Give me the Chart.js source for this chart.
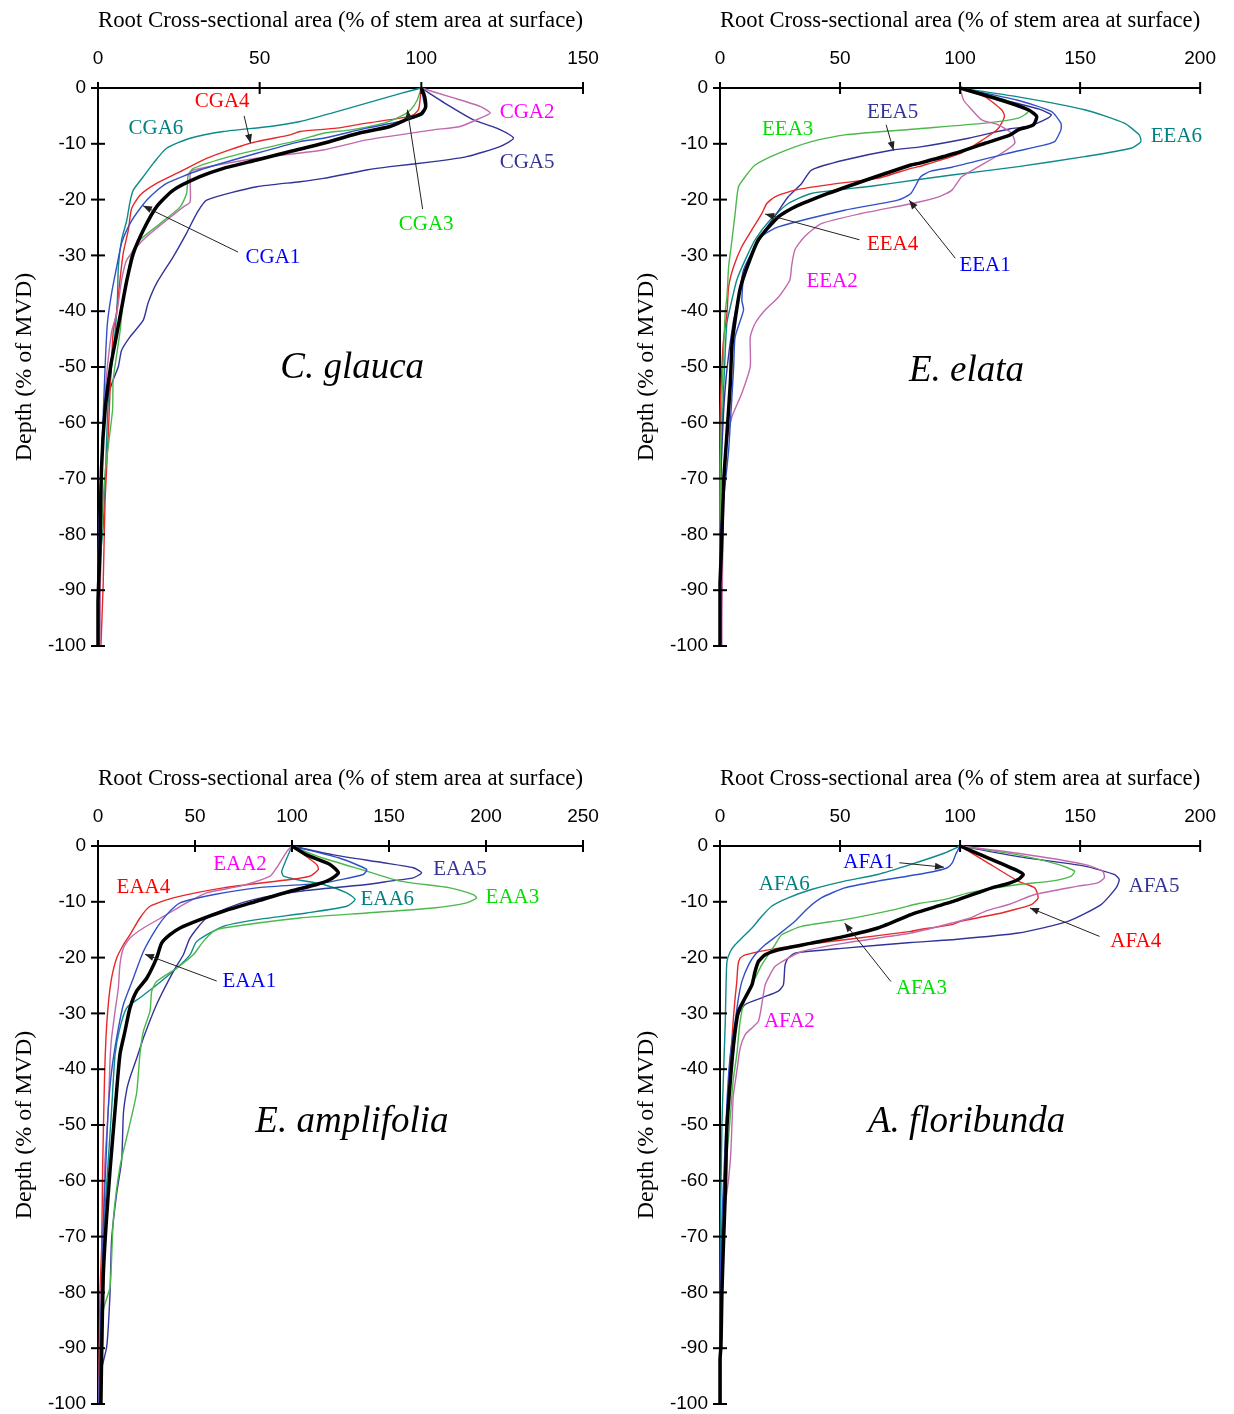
<!DOCTYPE html>
<html>
<head>
<meta charset="utf-8">
<script src="https://cdn.jsdelivr.net/npm/chart.js@4.4.0/dist/chart.umd.min.js"></script>
<style>
  body { margin: 0; background: #fff; width: 1234px; height: 1414px; position: relative; overflow: hidden; }
  canvas { position: absolute; }
</style>
</head>
<body>
<canvas id="glauca" width="617" height="707" style="left:0;top:0"></canvas>
<canvas id="elata" width="612" height="707" style="left:622px;top:0"></canvas>
<canvas id="amplifolia" width="617" height="700" style="left:0;top:758px"></canvas>
<canvas id="floribunda" width="612" height="700" style="left:622px;top:758px"></canvas>
<script>
// [root area %, depth %]
const cgaMean = [[100,0],[101,-1.5],[101.3,-3.5],[100,-4.6],[96,-5.5],[90.3,-6.9],[80,-8.2],[69.7,-9.9],[60,-11.3],[49.1,-12.9],[38.8,-14.4],[31.5,-15.9],[23.3,-18.3],[18.1,-21.3],[14,-25.5],[10.9,-29.7],[8.9,-34.5],[7.6,-38.5],[5.5,-45],[3.9,-49.9],[2.2,-57.7],[1.1,-68],[0.6,-82.8],[0,-92],[0,-100]];
const cga1 = [[100,0],[100.7,-2.2],[101.2,-3.9],[100.2,-4.8],[93.4,-6],[83.1,-7.2],[69.7,-9],[62.5,-9.6],[49.1,-11.7],[31.5,-14.7],[21.2,-17.1],[16.1,-19.5],[13,-21.6],[9.9,-24.3],[7.3,-27.8],[5.8,-32],[4.2,-36.8],[2.9,-42.2],[2.2,-49.9],[1.4,-61.9],[0.6,-73.8],[0.3,-85],[0,-90],[0,-100]];
const cga2 = [[100,0],[108.9,-1.6],[118.2,-3.3],[121.3,-4.5],[118.2,-5.4],[112,-6.9],[103.7,-7.5],[83.1,-9.3],[69.7,-11.1],[49.1,-12.6],[29.5,-14.7],[28.5,-15.3],[28.5,-20.4],[26.4,-21.3],[21.2,-23.7],[14,-27.2],[8.9,-30.8],[7.3,-34.4],[5.8,-40.4],[4.2,-43.7],[2.2,-54.7],[1.1,-68],[0.8,-80],[0.6,-100]];
const cga3 = [[100,0],[98.7,-2.2],[96.7,-3.9],[93.6,-5.1],[88.5,-6.3],[78.2,-7.5],[69.7,-8.1],[62.5,-9.3],[49.1,-11.1],[38.8,-12.6],[29.5,-14.4],[27.9,-15.6],[27.4,-18.9],[25.4,-21.3],[19.2,-24.3],[13,-27.2],[10.4,-29.6],[8.9,-34.4],[7.8,-38],[6.8,-43.7],[4.7,-52.3],[4.5,-57.7],[2.2,-69],[1.1,-80],[0.4,-98],[0.4,-100]];
const cga4 = [[100,0],[99.6,-2.2],[99.1,-3.9],[97.5,-4.8],[93.4,-5.4],[83.1,-6.3],[73.8,-7.2],[62.5,-7.8],[59.4,-8.4],[47,-9.9],[33.6,-12.6],[25.4,-15],[18.1,-17.1],[13,-19.2],[10.4,-21.6],[9.4,-25.4],[7.8,-29.6],[6.8,-34.4],[5.8,-40],[4.7,-43.7],[3.7,-54.7],[3.2,-61.9],[2.2,-73.8],[1.6,-89],[0.9,-100]];
const cga5 = [[100,0],[108.9,-3.3],[116.1,-5.7],[123.3,-7.2],[128.5,-9],[124.3,-10.5],[114,-12.3],[103.7,-13.2],[90.3,-14.1],[83.1,-14.7],[69.7,-16.2],[62.5,-16.8],[49.1,-17.7],[33.6,-20.1],[30.5,-22.5],[27.4,-26],[23.3,-30.2],[18.1,-35],[15.5,-38.5],[14,-41.6],[9.9,-44.6],[7.3,-47],[6.3,-49.9],[4.7,-52.3],[2.7,-55.9],[1.6,-61.9],[0.6,-73.8],[0,-85],[0,-100]];
const cga6 = [[100,0],[93.4,-1],[83.1,-2.7],[72.8,-4.4],[62.5,-6],[53.2,-6.9],[38.8,-7.8],[28.5,-9],[21.2,-10.8],[17.1,-13.5],[14,-15.9],[10.9,-18.3],[9.9,-20.4],[8.9,-23.7],[7.3,-27.2],[6.3,-32],[6,-38],[5.3,-43.7],[3.2,-55.9],[2.2,-70.8],[1.6,-78.6],[0.4,-86],[0,-91.8],[0,-100]];

const eeaMean = [[100,0],[117.3,-2.2],[128.4,-3.9],[131.9,-5.1],[130.5,-6.6],[124.2,-7.5],[120.9,-8.4],[110.4,-9.9],[98,-11.7],[82.8,-13.5],[79.5,-13.8],[58.8,-16.8],[45,-18.9],[31.2,-21.3],[24.3,-23.1],[16,-27.2],[11.9,-31.4],[8.4,-36],[6.5,-41],[5,-46],[4.3,-52.9],[2.9,-61.9],[1.5,-70.8],[0.6,-82.8],[0,-89],[0,-100]];
const eea1 = [[100,0],[124,-2.2],[138,-4.2],[142,-6.3],[142,-7.5],[139.4,-9.6],[135.3,-10.2],[119,-11.8],[96.6,-14.2],[87.8,-14.9],[83.6,-15.9],[79.5,-18.9],[74,-20.1],[51.9,-21.9],[24.3,-24.9],[17.4,-26.6],[10.5,-32],[9.1,-38],[9.8,-39.8],[6.3,-44.6],[5.7,-49.9],[4.3,-60.1],[3.6,-64.9],[2.2,-70.8],[0.8,-76.8],[0,-80],[0,-100]];
const eea2 = [[100,0],[101.5,-2.2],[104.9,-3.9],[109,-5.7],[115.9,-6.6],[121.4,-8.1],[122.8,-9.9],[117.3,-11.7],[107.7,-14.1],[100.7,-15.9],[96.6,-18.3],[91.1,-19.5],[81,-20.6],[58.8,-22.5],[42.2,-24.3],[35.3,-26.6],[31.2,-29],[29.8,-32],[29.1,-34.4],[24.3,-37.5],[18.8,-39.8],[14.6,-42.2],[12.6,-44.6],[12.6,-49.9],[9.1,-54.7],[5,-58.9],[2.2,-64.9],[1.5,-73.8],[0.8,-94.7],[0.8,-100]];
const eea3 = [[100,0],[118,-2],[128.4,-4.2],[124.2,-5.4],[110.4,-6.3],[82.8,-7.3],[51.9,-8.4],[38.1,-9.6],[24.3,-11.7],[14.6,-13.8],[10.5,-15.9],[7.7,-17.7],[6.3,-22.5],[5,-27.2],[3.6,-32],[2.9,-37.4],[2.2,-40],[1.5,-47],[0.8,-56],[0.1,-68],[0,-100]];
const eea4 = [[100,0],[110.4,-1.6],[117.3,-3.9],[118.5,-5],[117.3,-6.3],[115.4,-7.5],[110.4,-9],[100.2,-11.7],[82.8,-14.1],[79.5,-14.4],[65.7,-16.2],[49.1,-17.1],[31.2,-18.3],[22.9,-19.5],[19.5,-20.7],[17.4,-22.5],[13.3,-25.4],[9.1,-28.4],[5.7,-32],[3.6,-35.6],[2.9,-40.4],[1.5,-45],[0.8,-50],[0,-60],[0,-100]];
const eea5 = [[100,0],[117,-2],[133,-3.8],[138,-4.8],[136.6,-5.4],[128.4,-6.9],[120.9,-7.3],[103.5,-9],[82.8,-10.6],[71.9,-11.1],[51.9,-12.9],[38.1,-14.7],[34,-17.1],[28.4,-19.5],[23.6,-22.5],[18.8,-25.4],[13.3,-29.6],[9.8,-32.6],[7.7,-37.4],[5.5,-42],[3,-50],[1.5,-58],[0.3,-70],[0,-80],[0,-100]];
const eea6 = [[100,0],[124.2,-1.6],[151.8,-3.9],[168.4,-6.3],[174.6,-8.4],[175.3,-9.6],[171.2,-10.8],[151.8,-12.3],[124.2,-14.1],[96.6,-15.6],[82.8,-16.4],[62.9,-17.6],[38.1,-18.9],[28.4,-20.7],[20.8,-23.7],[14.6,-27.2],[10.5,-30.8],[7,-34.4],[4.3,-39.2],[2.9,-42],[2.2,-47],[0.8,-61.9],[0.1,-76.8],[0,-100]];

const eaaMean = [[100,0],[107.6,-1.6],[119.6,-3.3],[123.9,-4.8],[119.6,-6],[112.7,-6.9],[99,-8.1],[81.8,-9.9],[64.6,-11.7],[52.6,-13.2],[42.3,-14.7],[37.1,-15.9],[32.8,-17.4],[30.2,-20.1],[25.1,-23.7],[19.9,-26],[16.5,-29],[13.9,-33.2],[11.3,-37.4],[8.8,-47.3],[6.2,-58.1],[4.1,-68.2],[2.7,-77.2],[1.9,-90.9],[1.5,-100]];
const eaa1 = [[100,0],[124.7,-2.2],[138.5,-4.2],[136.7,-5.1],[116.2,-6.6],[81.8,-7.5],[60,-8.7],[42.3,-10.2],[35.4,-12.3],[30.2,-14.7],[23.4,-18.9],[18.2,-23.7],[13.1,-28.4],[9.6,-34.4],[7,-40.4],[5.3,-47],[4.5,-53.3],[2.7,-68.2],[1.9,-80.2],[1,-90],[0.5,-100]];
const eaa2 = [[100,0],[97.3,-1],[92.1,-3.9],[88.7,-5.4],[73.2,-7.2],[56,-8.4],[44,-10.5],[35.4,-12.3],[23.4,-14.7],[16.5,-16.5],[13.1,-18.3],[11.3,-21.3],[10.5,-25.4],[8.8,-29.6],[7,-34.4],[6.2,-38.4],[5.3,-47.3],[3.6,-56.3],[2.7,-68.2],[1,-86.1],[0.7,-92],[0.5,-100]];
const eaa3 = [[100,0],[116.2,-2.2],[138.5,-4.5],[155.7,-6.3],[181.4,-7.5],[193.4,-8.7],[195.2,-9.3],[190,-10.2],[172.9,-11.1],[138.5,-12],[104,-12.9],[64.6,-14.7],[59.5,-15.3],[54.3,-17.1],[49.1,-19.5],[40.5,-21.9],[30.2,-24.3],[27.7,-26],[26.8,-29.6],[23.4,-33.2],[21.6,-37.4],[19.9,-44.3],[16.5,-49.7],[11.3,-57.5],[7.9,-67],[6.2,-79],[2.7,-83.2],[1.9,-90],[1.5,-100]];
const eaa4 = [[100,0],[112.7,-3.3],[113.6,-4.2],[109.3,-5.4],[99,-6],[64.6,-7.5],[38.8,-9.3],[26.8,-10.8],[21.6,-12.9],[16.5,-15.9],[13.1,-17.7],[9.6,-20.1],[7,-23.7],[5.3,-28.4],[4.1,-34.4],[3.4,-41],[2.4,-57.5],[1.9,-71.8],[1,-80.2],[0.7,-90],[0.5,-100]];
const eaa5 = [[100,0],[121.3,-1.6],[147.1,-3],[162.5,-3.9],[166.8,-4.8],[162.5,-5.7],[150.5,-6.3],[138.5,-6.9],[104.1,-8.1],[85,-9.2],[71.5,-10.5],[56,-12.9],[47.4,-16.5],[44,-19.5],[38.8,-22.5],[30.2,-28.4],[23.4,-34.4],[20,-38],[16.5,-41.5],[14.8,-43.7],[13.1,-47.9],[12.2,-56.3],[9.6,-62.3],[7,-70.6],[6.2,-80.2],[4.5,-89.7],[1,-95],[0.3,-100]];
const eaa6 = [[100,0],[94.7,-4.5],[95.6,-5.4],[102.4,-6],[116.2,-6.9],[128.2,-8.4],[132.5,-9.6],[128.2,-10.8],[107.6,-12],[81.8,-13.2],[64.6,-14.4],[50.9,-17.1],[47.4,-19.5],[40.5,-21.9],[30.2,-24.9],[21.6,-27.2],[14.8,-29],[11.3,-32.6],[8.8,-37.4],[7,-47.3],[5.3,-56.3],[3.6,-65.2],[2.4,-74.2],[1.9,-92.1],[1.5,-100]];

const afaMean = [[100,0],[110.4,-1.9],[122.8,-4.2],[126.3,-5.1],[124.2,-6],[118.7,-6.9],[113.2,-7.5],[98,-9.8],[82.8,-11.8],[79.5,-12.3],[65.7,-14.7],[51.9,-16.2],[38.1,-17.4],[24.3,-18.6],[18.8,-19.5],[16,-20.7],[14.6,-22.5],[13.3,-24.9],[10.5,-27.2],[7.7,-29.6],[6.3,-33.2],[5,-38.5],[2.9,-50.3],[2.2,-62.2],[1.5,-70.6],[0.8,-80],[0.4,-89.7],[0,-92],[0,-100]];
const afa1 = [[100,0],[98.1,-1.6],[96.8,-3],[94.7,-3.9],[86.4,-4.8],[65.7,-6.3],[51.9,-7.5],[42.2,-9.3],[36.7,-11.1],[31.2,-13.5],[24.3,-15.9],[18.8,-17.7],[14.6,-19.5],[11.9,-21.3],[9.1,-24.3],[7.7,-27.2],[6.3,-31.4],[4.3,-37.4],[3,-45],[2,-55],[1,-65],[0.3,-75],[0,-85],[0,-100]];
const afa2 = [[100,0],[124.2,-1.3],[151.8,-3.3],[159.4,-4.5],[160.1,-5.7],[157.3,-6.6],[149.1,-7.2],[131.1,-8.7],[120.9,-10.4],[110.4,-11.7],[104.3,-12.9],[96.6,-13.8],[79.5,-15.6],[51.9,-17.4],[34,-18.9],[27.1,-20.4],[22.9,-21.6],[20.8,-23.1],[18.8,-24.9],[17.4,-28.4],[16,-31.4],[13.3,-32.6],[10.5,-33.8],[8.4,-36.2],[7,-40.4],[5.5,-45],[4.5,-55],[3.5,-60],[2,-65],[1,-75],[0.5,-85],[0.3,-100]];
const afa3 = [[100,0],[124.2,-1.6],[140.8,-3.3],[147.7,-4.5],[146.3,-5.4],[138,-6.3],[124.2,-6.9],[103.5,-8.4],[93.3,-9.6],[82.8,-10.3],[72.6,-11.4],[51.9,-13.2],[34,-14.4],[25.7,-15.9],[22.9,-17.7],[17.4,-21.3],[14.6,-23.7],[10.5,-27.2],[8.4,-31.4],[7,-37.4],[5.5,-42],[4,-50],[3,-55],[2,-65],[1,-80],[0.5,-90],[0.5,-100]];
const afa4 = [[100,0],[110.4,-2.7],[124.2,-6.3],[131.1,-7.5],[132.5,-9.3],[129.7,-10.5],[120.9,-11.6],[117.3,-12],[100.2,-13.5],[96.6,-14.1],[82.8,-15],[79.5,-15.3],[51.9,-16.8],[24.3,-18.3],[10.5,-19.5],[8.4,-20.1],[7.5,-21.3],[7,-24.3],[6.3,-27.2],[5.7,-30.2],[5,-34.4],[4,-40],[3,-48],[2,-58],[1,-70],[0.5,-85],[0,-100]];
const afa5 = [[100,0],[124.2,-1.9],[151.8,-3.6],[164.2,-5.1],[166.3,-6],[165,-7.5],[158.7,-10.5],[144.9,-13.5],[124.2,-15.6],[96.6,-16.8],[79.5,-17.3],[51.9,-18.3],[31.2,-19.2],[28.4,-20.1],[27.1,-21.3],[26.4,-24.9],[24.3,-26],[17.4,-27.2],[10.5,-28.4],[7.7,-30.2],[6.3,-33.2],[5,-37.4],[4,-42],[3,-50],[2,-60],[1,-72],[0.5,-85],[0,-95],[0,-100]];
const afa6 = [[100,0],[93.3,-1.3],[79.5,-3.3],[65.7,-5.1],[51.9,-6.3],[38.1,-7.8],[28.4,-9.3],[21.5,-10.8],[17.4,-12.6],[13.3,-14.7],[9.1,-16.5],[6.3,-17.7],[4.3,-18.9],[2.9,-20.7],[2.5,-25.4],[2.2,-31.4],[1.5,-40.4],[0.8,-50],[0.1,-71.8],[0,-100]];

// tree 1..6 colours (lines / text labels)
const lineColors = ['#3050c8', '#c06aae', '#4cb84c', '#e62828', '#333399', '#0e8a8a'];
const labelColors = ['#0000ff', '#ff00ff', '#00e000', '#ff0000', '#333399', '#008080'];

const panels = {
  glauca: {
    title: 'C. glauca', titleAt: [78.6, -50.2], xMax: 150, padRight: 34, padBottom: 61,
    mean: cgaMean, series: [cga1, cga2, cga3, cga4, cga5, cga6],
    labels: [['CGA1', 0, 54.1, -30.3], ['CGA2', 1, 132.7, -4.3], ['CGA3', 2, 101.5, -24.4],
             ['CGA4', 3, 38.4, -2.5], ['CGA5', 4, 132.7, -13.4], ['CGA6', 5, 17.9, -7.2]],
    arrows: [[45.2, -5.0, 47.2, -9.9], [100.4, -21.7, 95.7, -3.9], [43.3, -29.4, 13.9, -21.1]]
  },
  elata: {
    title: 'E. elata', titleAt: [102.7, -50.7], xMax: 200, padRight: 31, padBottom: 61,
    mean: eeaMean, series: [eea1, eea2, eea3, eea4, eea5, eea6],
    labels: [['EEA1', 0, 110.4, -31.8], ['EEA2', 1, 46.7, -34.6], ['EEA3', 2, 28.2, -7.5],
             ['EEA4', 3, 71.9, -28.0], ['EEA5', 4, 71.9, -4.4], ['EEA6', 5, 190.1, -8.7]],
    arrows: [[69.2, -6.6, 72.3, -11.2], [58.1, -27.2, 18.8, -22.6], [98.0, -30.5, 78.8, -20.1]]
  },
  amplifolia: {
    title: 'E. amplifolia', titleAt: [130.9, -49.5], xMax: 250, padRight: 34, padBottom: 54,
    mean: eaaMean, series: [eaa1, eaa2, eaa3, eaa4, eaa5, eaa6],
    labels: [['EAA1', 0, 78.0, -24.3], ['EAA2', 1, 73.2, -3.3], ['EAA3', 2, 213.6, -9.3],
             ['EAA4', 3, 23.4, -7.5], ['EAA5', 4, 186.6, -4.2], ['EAA6', 5, 149.1, -9.5]],
    arrows: [[61.2, -24.2, 24.2, -19.4]]
  },
  floribunda: {
    title: 'A. floribunda', titleAt: [102.7, -49.5], xMax: 200, padRight: 31, padBottom: 54,
    mean: afaMean, series: [afa1, afa2, afa3, afa4, afa5, afa6],
    labels: [['AFA1', 0, 62.0, -2.9], ['AFA2', 1, 28.9, -31.5], ['AFA3', 2, 83.9, -25.6],
             ['AFA4', 3, 173.2, -17.2], ['AFA5', 4, 180.8, -7.3], ['AFA6', 5, 26.8, -6.9]],
    arrows: [[74.7, -3.0, 93.3, -3.8], [158.1, -16.2, 129.1, -11.1], [71.2, -24.3, 51.9, -13.8]]
  }
};

function drawArrow(ctx, x1, y1, x2, y2) {
  ctx.beginPath();
  ctx.moveTo(x1, y1);
  ctx.lineTo(x2, y2);
  ctx.stroke();
  const a = Math.atan2(y2 - y1, x2 - x1);
  const len = 9, half = 3.5;
  ctx.beginPath();
  ctx.moveTo(x2, y2);
  ctx.lineTo(x2 - len * Math.cos(a) + half * Math.sin(a), y2 - len * Math.sin(a) - half * Math.cos(a));
  ctx.lineTo(x2 - len * Math.cos(a) - half * Math.sin(a), y2 - len * Math.sin(a) + half * Math.cos(a));
  ctx.closePath();
  ctx.fill();
}

const decorPlugin = {
  id: 'decor',
  afterDraw(chart) {
    const panel = chart.options.plugins.decor;
    const ctx = chart.ctx;
    const x = chart.scales.x, y = chart.scales.y;
    const area = chart.chartArea;
    ctx.save();

    // tick marks crossing the axes
    ctx.strokeStyle = '#000';
    ctx.lineWidth = 2;
    x.ticks.forEach(t => {
      const px = x.getPixelForValue(t.value);
      ctx.beginPath();
      ctx.moveTo(px, area.top - 6);
      ctx.lineTo(px, area.top + 6);
      ctx.stroke();
    });
    y.ticks.forEach(t => {
      const py = y.getPixelForValue(t.value);
      ctx.beginPath();
      ctx.moveTo(area.left - 7, py);
      ctx.lineTo(area.left + 7, py);
      ctx.stroke();
    });

    // pointer arrows
    ctx.strokeStyle = '#222';
    ctx.fillStyle = '#222';
    ctx.lineWidth = 1;
    panel.arrows.forEach(([x1, y1, x2, y2]) => {
      drawArrow(ctx, x.getPixelForValue(x1), y.getPixelForValue(y1),
                x.getPixelForValue(x2), y.getPixelForValue(y2));
    });

    // tree labels
    ctx.textAlign = 'center';
    ctx.textBaseline = 'middle';
    ctx.font = '21px "Liberation Serif"';
    panel.labels.forEach(([text, idx, lx, ly]) => {
      ctx.fillStyle = labelColors[idx];
      ctx.fillText(text, x.getPixelForValue(lx), y.getPixelForValue(ly));
    });

    // species name
    ctx.fillStyle = '#000';
    ctx.font = 'italic 37px "Liberation Serif"';
    ctx.fillText(panel.title, x.getPixelForValue(panel.titleAt[0]), y.getPixelForValue(panel.titleAt[1]));
    ctx.restore();
  }
};

function toPoints(pairs) {
  return pairs.map(([area, depth]) => ({ x: area, y: depth }));
}

function createDepthChart(canvasId) {
  const panel = panels[canvasId];
  const datasets = [{
    data: toPoints(panel.mean),
    borderColor: '#000',
    borderWidth: 3.5
  }];
  panel.series.forEach((s, i) => {
    datasets.push({
      data: toPoints(s),
      borderColor: lineColors[i],
      borderWidth: 1.4
    });
  });
  datasets.forEach(d => {
    d.showLine = true;
    d.pointRadius = 0;
    d.tension = 0.2;
    d.clip = false;
  });

  const ctx = document.getElementById(canvasId).getContext('2d');
  new Chart(ctx, {
    type: 'scatter',
    data: { datasets: datasets },
    plugins: [decorPlugin],
    options: {
      responsive: false,
      animation: false,
      events: [],
      layout: { padding: { left: 0, top: 0, right: panel.padRight, bottom: panel.padBottom } },
      plugins: {
        legend: { display: false },
        tooltip: { enabled: false },
        decor: panel
      },
      scales: {
        x: {
          type: 'linear',
          position: 'top',
          min: 0,
          max: panel.xMax,
          afterFit: (scale) => { scale.height = 88; },
          ticks: {
            stepSize: 50,
            padding: 18,
            color: '#000',
            font: { family: 'Liberation Sans', size: 19 }
          },
          grid: { display: false, drawTicks: false },
          border: { display: true, color: '#000', width: 2 },
          title: {
            display: true,
            text: 'Root Cross-sectional area (% of stem area at surface)',
            color: '#000',
            font: { family: 'Liberation Serif', size: 24 },
            padding: { top: 6, bottom: 0 }
          }
        },
        y: {
          type: 'linear',
          min: -100,
          max: 0,
          afterFit: (scale) => { scale.width = 98; },
          ticks: {
            stepSize: 10,
            padding: 12,
            color: '#000',
            font: { family: 'Liberation Sans', size: 19 }
          },
          grid: { display: false, drawTicks: false },
          border: { display: true, color: '#000', width: 2 },
          title: {
            display: true,
            text: 'Depth (% of MVD)',
            color: '#000',
            font: { family: 'Liberation Serif', size: 24 },
            padding: { top: 10, bottom: 0 }
          }
        }
      }
    }
  });
}

['glauca', 'elata', 'amplifolia', 'floribunda'].forEach(createDepthChart);
</script>
</body>
</html>
